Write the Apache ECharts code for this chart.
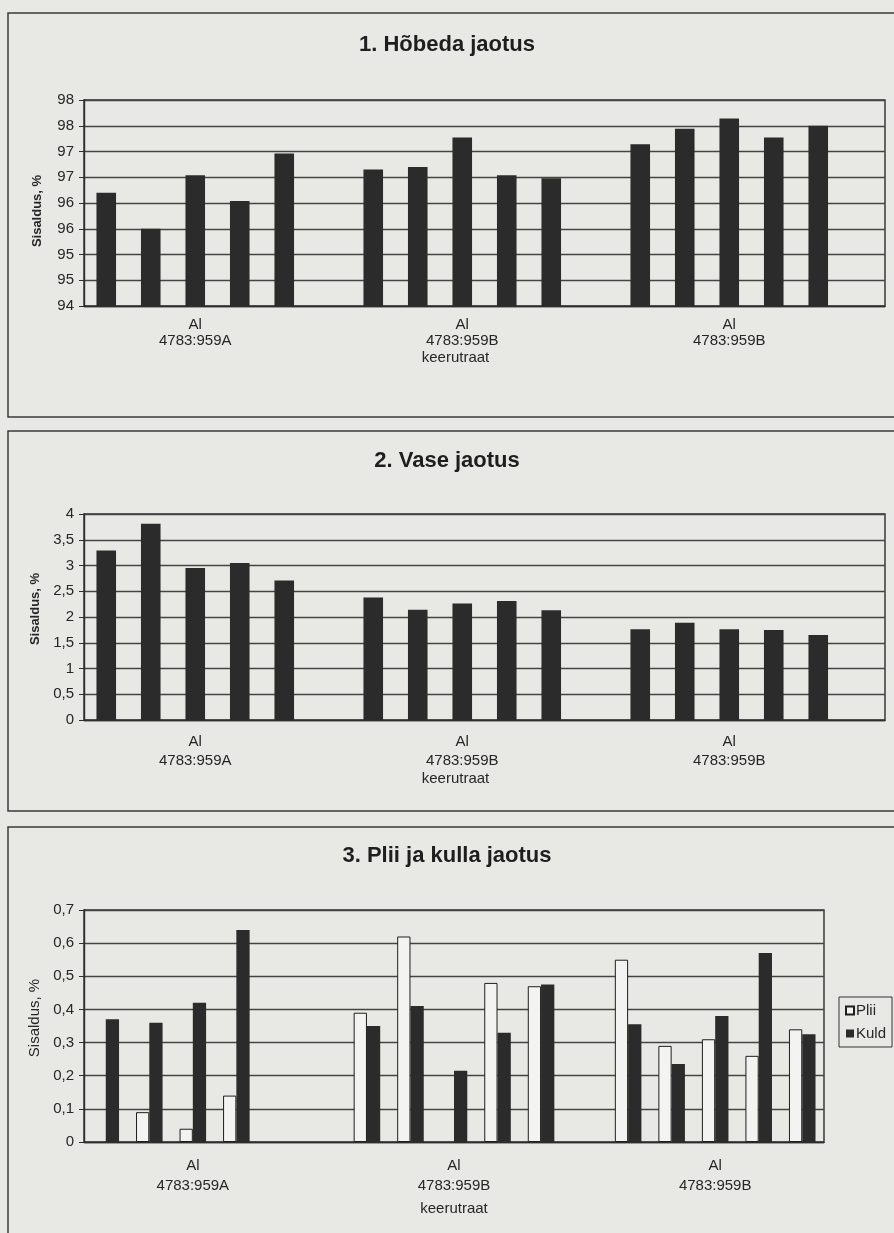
<!DOCTYPE html>
<html>
<head>
<meta charset="utf-8">
<script src="https://cdn.jsdelivr.net/npm/echarts@6/dist/echarts.min.js"></script>
<style>
  html, body { margin: 0; padding: 0; background: #e8e8e5; }
  #chart { width: 894px; height: 1233px; }
</style>
</head>
<body>
<div id="chart"></div>
<script>
// ---- data ----
const chartTitles = ['1. Hõbeda jaotus', '2. Vase jaotus', '3. Plii ja kulla jaotus'];
const groupLabels = ['Al\n4783:959A', 'Al\n4783:959B', 'Al\n4783:959B'];
const yTitle = 'Sisaldus, %';
const xTitle = 'keerutraat';

// 1. Silver (%)
const silverA  = [96.2, 95.5, 96.54, 96.04, 96.96];
const silverB1 = [96.65, 96.7, 97.27, 96.54, 96.48];
const silverB2 = [97.14, 97.44, 97.64, 97.27, 97.5];
const silverTicks = ['94', '95', '95', '96', '96', '97', '97', '98', '98'];

// 2. Copper (%)
const copperA  = [3.29, 3.81, 2.95, 3.05, 2.71];
const copperB1 = [2.38, 2.14, 2.26, 2.31, 2.13];
const copperB2 = [1.76, 1.89, 1.76, 1.75, 1.65];
const copperTicks = ['0', '0,5', '1', '1,5', '2', '2,5', '3', '3,5', '4'];

// 3. Lead and gold (%)
const seriesNames = ['Plii', 'Kuld'];
const leadA  = [null, 0.09, 0.04, 0.14, null];
const leadB1 = [0.39, 0.62, null, 0.48, 0.47];
const leadB2 = [0.55, 0.29, 0.31, 0.26, 0.34];
const goldA  = [0.37, 0.36, 0.42, 0.64, null];
const goldB1 = [0.35, 0.41, 0.215, 0.33, 0.475];
const goldB2 = [0.355, 0.235, 0.38, 0.57, 0.325];
const leadGoldTicks = ['0', '0,1', '0,2', '0,3', '0,4', '0,5', '0,6', '0,7'];

// ---- build ----
function withGaps(groups, trailingGap) {
  const out = [];
  groups.forEach((g, i) => {
    out.push(...g);
    if (i < groups.length - 1 || trailingGap) out.push(null);
  });
  return out;
}
const silver = withGaps([silverA, silverB1, silverB2], true);
const copper = withGaps([copperA, copperB1, copperB2], true);
const lead = withGaps([leadA, leadB1, leadB2], false);
const gold = withGaps([goldA, goldB1, goldB2], false);
const cats18 = silver.map((_, i) => 'c' + i);
const cats17 = lead.map((_, i) => 'c' + i);

const FONT = "'Liberation Sans', Arial, sans-serif";
const TXT = '#262626';
const GRID_LINE = '#444444';

function groupLabel(value, index) {
  return index % 6 === 2 ? groupLabels[Math.floor(index / 6)] : '';
}

function xAxisCfg(gridIndex, cats, margin, lineHeight, nameGap, padRight) {
  return {
    type: 'category', gridIndex, data: cats,
    axisLine: { lineStyle: { color: '#2e2e2e', width: 1.4 } },
    axisTick: { show: false },
    axisLabel: { interval: 0, formatter: groupLabel, margin, lineHeight,
      fontFamily: FONT, fontSize: 15, color: TXT },
    name: xTitle, nameLocation: 'middle', nameGap,
    nameTextStyle: { fontFamily: FONT, fontSize: 15, color: TXT, padding: [0, padRight, 0, 0] }
  };
}

function yAxisCfg(gridIndex, min, max, interval, ticks, nameBold, nameSize, nameGap, namePad) {
  return {
    type: 'value', gridIndex, min, max, interval,
    axisLine: { show: true, lineStyle: { color: '#2e2e2e', width: 1.4 } },
    axisTick: { show: true, length: 5, lineStyle: { color: '#2e2e2e' } },
    axisLabel: {
      formatter: v => ticks[Math.round((v - min) / interval)],
      fontFamily: FONT, fontSize: 15, color: TXT, margin: 10
    },
    splitLine: { show: true, lineStyle: { color: GRID_LINE, width: 1.4 } },
    name: yTitle, nameLocation: 'middle', nameRotate: 90, nameGap,
    nameTextStyle: { fontFamily: FONT, fontSize: nameSize, fontWeight: nameBold ? 'bold' : 'normal',
      color: TXT, padding: namePad }
  };
}

const chart = echarts.init(document.getElementById('chart'), null, { renderer: 'canvas' });

const titleStyle = { fontFamily: FONT, fontSize: 22, fontWeight: 'bold', color: '#1e1e1e' };

const option = {
  backgroundColor: '#e8e8e5',
  animation: false,
  title: [
    { text: chartTitles[0], left: 'center', top: 29, textStyle: titleStyle },
    { text: chartTitles[1], left: 'center', top: 445, textStyle: titleStyle },
    { text: chartTitles[2], left: 'center', top: 840, textStyle: titleStyle }
  ],
  legend: {
    data: seriesNames, orient: 'vertical', left: 839, top: 997,
    itemWidth: 8, itemHeight: 8, itemGap: 8, icon: 'rect',
    padding: [6, 6, 6, 6], borderColor: '#333', borderWidth: 1,
    textStyle: { fontFamily: FONT, fontSize: 15, color: TXT, padding: [0, 0, 0, -3] }
  },
  graphic: [
    { type: 'rect', shape: { x: 8, y: 13, width: 900, height: 404 }, style: { fill: 'none', stroke: '#3a3a3a', lineWidth: 1.5 }, silent: true },
    { type: 'rect', shape: { x: 8, y: 431, width: 900, height: 380 }, style: { fill: 'none', stroke: '#3a3a3a', lineWidth: 1.5 }, silent: true },
    { type: 'rect', shape: { x: 8, y: 827, width: 900, height: 420 }, style: { fill: 'none', stroke: '#3a3a3a', lineWidth: 1.5 }, silent: true }
  ],
  grid: [
    { left: 84, top: 100, width: 801, height: 206, show: true, borderColor: '#2e2e2e', borderWidth: 1.4, backgroundColor: 'transparent' },
    { left: 84, top: 514, width: 801, height: 206, show: true, borderColor: '#2e2e2e', borderWidth: 1.4, backgroundColor: 'transparent' },
    { left: 84, top: 910, width: 740, height: 232, show: true, borderColor: '#2e2e2e', borderWidth: 1.4, backgroundColor: 'transparent' }
  ],
  xAxis: [
    xAxisCfg(0, cats18, 11, 16, 44, 58),
    xAxisCfg(1, cats18, 12, 19, 50, 58),
    xAxisCfg(2, cats17, 14, 20, 59, 0)
  ],
  yAxis: [
    yAxisCfg(0, 94, 98, 0.5, silverTicks, true, 13, 40, [0, 16, 0, 0]),
    yAxisCfg(1, 0, 4, 0.5, copperTicks, true, 13, 40, [0, 0, 0, 16]),
    yAxisCfg(2, 0, 0.7, 0.1, leadGoldTicks, false, 15, 38, [0, 0, 0, 16])
  ],
  series: [
    { type: 'bar', xAxisIndex: 0, yAxisIndex: 0, data: silver, barWidth: '44%',
      itemStyle: { color: '#2b2b2b' } },
    { type: 'bar', xAxisIndex: 1, yAxisIndex: 1, data: copper, barWidth: '44%',
      itemStyle: { color: '#2b2b2b' } },
    { type: 'bar', name: seriesNames[0], xAxisIndex: 2, yAxisIndex: 2, data: lead,
      barGap: '0%', barCategoryGap: '39%',
      itemStyle: { color: '#f3f3f1', borderColor: '#1e1e1e', borderWidth: 1 } },
    { type: 'bar', name: seriesNames[1], xAxisIndex: 2, yAxisIndex: 2, data: gold,
      barGap: '0%', barCategoryGap: '39%',
      itemStyle: { color: '#2b2b2b' } }
  ]
};
chart.setOption(option);
</script>
</body>
</html>
